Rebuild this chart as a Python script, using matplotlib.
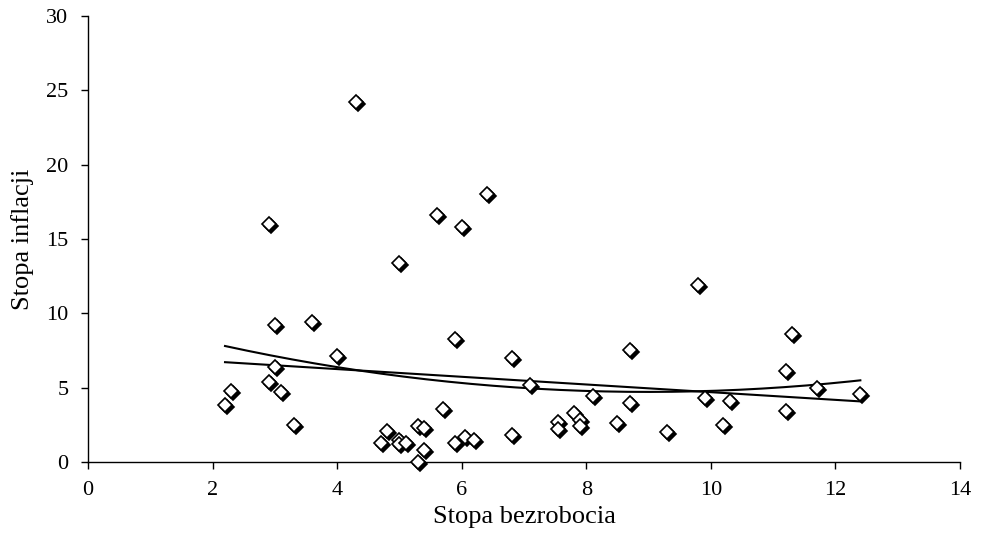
import numpy as np
import matplotlib
matplotlib.use("Agg")
import matplotlib.pyplot as plt
import matplotlib.transforms as mtransforms

plt.rcParams['font.family'] = ['Liberation Serif', 'DejaVu Serif']

unemployment = [2.2, 2.3, 2.9, 2.9, 3.0, 3.0, 3.1, 3.3, 3.6, 4.0,
                4.3, 4.7, 4.8, 5.0, 5.0, 5.0, 5.1, 5.3, 5.3, 5.4,
                5.4, 5.6, 5.7, 5.9, 5.9, 6.0, 6.05, 6.2, 6.4, 6.8,
                6.8, 7.1, 7.55, 7.55, 7.8, 7.9, 7.9, 8.1, 8.5, 8.7,
                8.7, 9.3, 9.8, 9.9, 10.2, 10.3, 11.2, 11.2, 11.3, 11.7, 12.4]
inflation = [3.85, 4.8, 16.0, 5.4, 9.2, 6.4, 4.7, 2.5, 9.4, 7.1,
             24.2, 1.3, 2.1, 13.4, 1.45, 1.2, 1.3, 2.4, 0.0, 2.3,
             0.8, 16.6, 3.55, 8.3, 1.3, 15.8, 1.65, 1.5, 18.0, 7.0,
             1.8, 5.2, 2.7, 2.25, 3.3, 2.8, 2.4, 4.45, 2.6, 7.5,
             4.0, 2.0, 11.9, 4.3, 2.5, 4.1, 6.1, 3.4, 8.6, 5.0, 4.6]

x_ticks = [0, 2, 4, 6, 8, 10, 12, 14]
y_ticks = [0, 5, 10, 15, 20, 25, 30]

x = np.array(unemployment)
y = np.array(inflation)

fig = plt.figure(figsize=(9.81, 5.39), dpi=100)
ax = fig.add_axes([0.0897, 0.1429, 0.8889, 0.8274])

xs = np.linspace(x.min(), x.max(), 200)
lin = np.polyfit(x, y, 1)
quad = np.polyfit(x, y, 2)
ax.plot(xs, np.polyval(lin, xs), color='black', lw=1.5, zorder=2)
ax.plot(xs, np.polyval(quad, xs), color='black', lw=1.5, zorder=2)

shadow = mtransforms.offset_copy(ax.transData, fig=fig, x=2, y=-2, units='dots')
ax.plot(x, y, linestyle='none', marker='D', ms=7, mfc='black', mec='black',
        mew=1.2, transform=shadow, zorder=3, clip_on=False)
ax.plot(x, y, linestyle='none', marker='D', ms=7, mfc='white', mec='black',
        mew=1.2, zorder=4, clip_on=False)

ax.set_xlim(0, 14)
ax.set_ylim(0, 30)
ax.set_xticks(x_ticks)
ax.set_yticks(y_ticks)
ax.spines['top'].set_visible(False)
ax.spines['right'].set_visible(False)
for s in ['left', 'bottom']:
    ax.spines[s].set_linewidth(1.0)
ax.tick_params(direction='out', length=5, width=1.0, labelsize=16)
ax.tick_params(axis='x', pad=9)
ax.tick_params(axis='y', pad=9)
ax.set_xlabel('Stopa bezrobocia', fontsize=19, labelpad=4)
ax.set_ylabel('Stopa inflacji', fontsize=19, labelpad=9)

fig.savefig('out.png', dpi=100)
